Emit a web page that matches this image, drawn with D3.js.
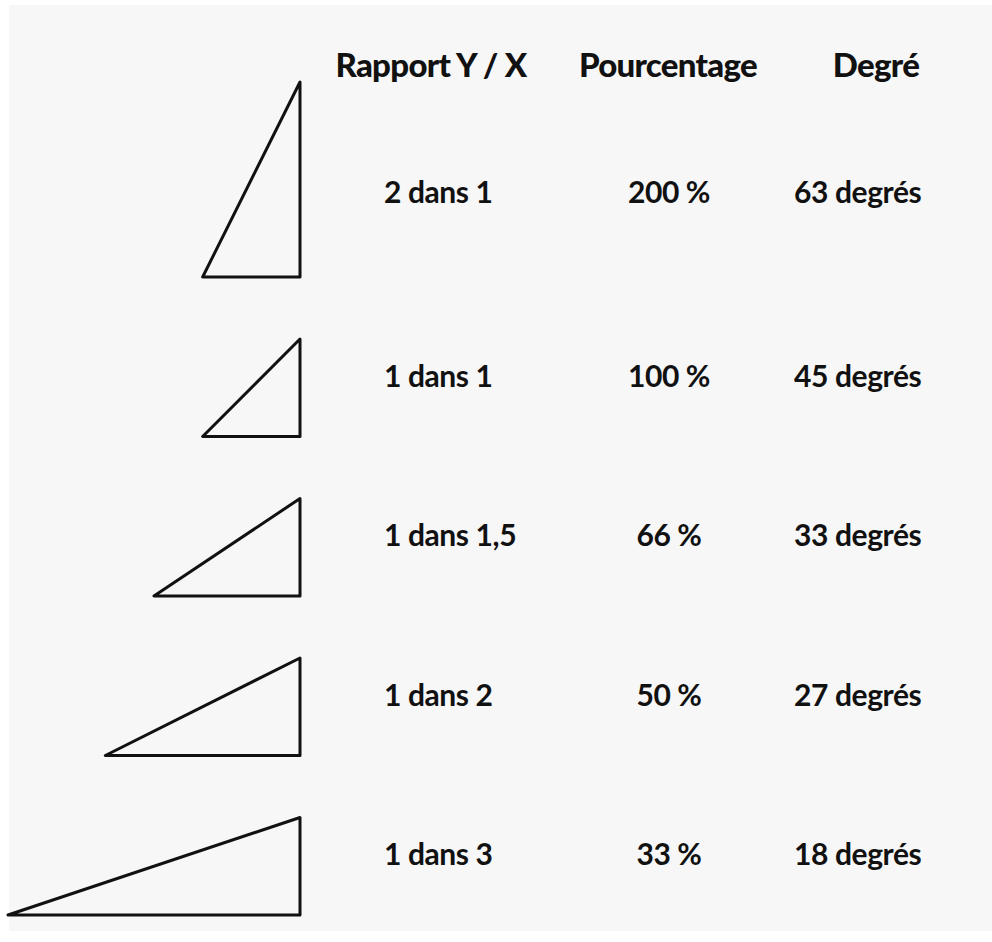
<!DOCTYPE html>
<html><head><meta charset="utf-8">
<script src="https://cdn.jsdelivr.net/npm/d3@7/dist/d3.min.js"></script>
<style>
html,body{margin:0;padding:0;background:#fff;}
svg{display:block;}
</style></head>
<body>
<svg id="chart" width="992" height="942"></svg>
<script>
// ---- data ----
const headers = ["Rapport Y / X", "Pourcentage", "Degré"];
const rises = [2, 1, 1, 1, 1];          // Y
const runs = [1, 1, 1.5, 2, 3];         // X
const ratioLabels = ["2 dans 1", "1 dans 1", "1 dans 1,5", "1 dans 2", "1 dans 3"];
const percentLabels = ["200 %", "100 %", "66 %", "50 %", "33 %"];
const degreeLabels = ["63 degrés", "45 degrés", "33 degrés", "27 degrés", "18 degrés"];

const svg = d3.select("#chart");
svg.append("rect").attr("x", 9).attr("y", 5).attr("width", 983).attr("height", 926).attr("fill", "#f7f7f7");

const idx = d3.range(rises.length);
const rowY = d3.scalePoint().domain(idx).range([277, 915]);
const xRun = d3.scaleLinear().domain([0, 3]).range([300, 8]);
const yRise = d3.scaleLinear().domain([0, 1]).range([0, 97.5]);

const font = "Lato, 'Open Sans', sans-serif";

// headers
const headerX = [431, 668, 876];
svg.selectAll("text.h").data(headers).join("text")
  .attr("class", "h")
  .attr("x", (d, i) => headerX[i]).attr("y", 77)
  .attr("text-anchor", "middle")
  .attr("font-family", font).attr("font-weight", 900)
  .attr("font-size", 33).attr("letter-spacing", -0.7)
  .attr("fill", "#111")
  .text(d => d);

// triangles
const line = d3.line();
svg.selectAll("path.tri").data(idx).join("path")
  .attr("class", "tri")
  .attr("d", i => {
    const b = rowY(i);
    return line([[xRun(runs[i]), b], [xRun(0), b], [xRun(0), b - yRise(rises[i])]]) + "Z";
  })
  .attr("fill", "none").attr("stroke", "#111").attr("stroke-width", 3)
  .attr("stroke-linejoin", "round");

// row texts
const baseY = i => rowY(i) - 50 - (rises[i] - 1) * 24;
const cols = [
  {labels: ratioLabels, x: 384, anchor: "start"},
  {labels: percentLabels, x: 669, anchor: "middle"},
  {labels: degreeLabels, x: 794, anchor: "start"}
];
cols.forEach((c, ci) => {
  svg.selectAll("text.c" + ci).data(idx).join("text")
    .attr("class", "c" + ci)
    .attr("x", c.x).attr("y", i => baseY(i))
    .attr("text-anchor", c.anchor)
    .attr("font-family", font).attr("font-weight", 700)
    .attr("font-size", 30).attr("letter-spacing", -0.4)
    .attr("fill", "#111")
    .text(i => c.labels[i]);
});
</script>
</body></html>
